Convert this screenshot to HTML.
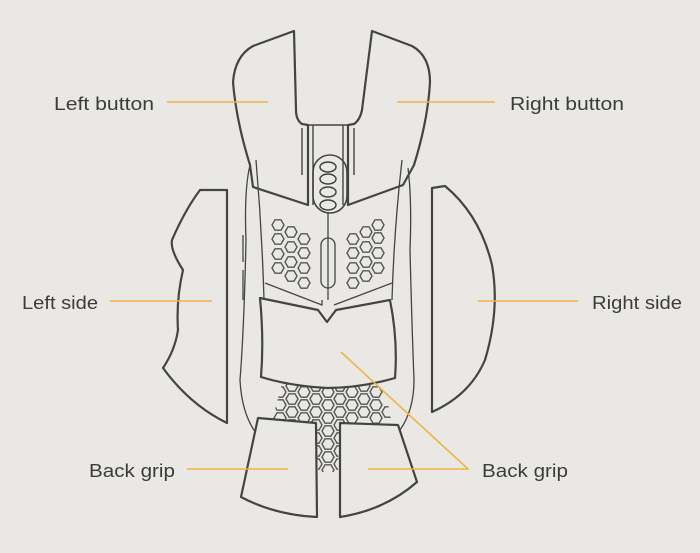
<!DOCTYPE html>
<html><head><style>
html,body{margin:0;padding:0;background:#e9e8e4;}
svg{display:block}
text{font-family:"Liberation Sans",sans-serif;font-size:18px;fill:#3c3c3c;}
</style></head><body>
<svg width="700" height="553" viewBox="0 0 700 553" xmlns="http://www.w3.org/2000/svg">
<defs>
<polygon id="h" points="6,0 3,5.2 -3,5.2 -6,0 -3,-5.2 3,-5.2" fill="none" stroke="#555" stroke-width="1.4"/>
<clipPath id="bc"><path d="M282,384 L384,384 L392,424 L340,424 L338,472 L318,472 L316,422 L272,420 Z"/></clipPath>
</defs>
<rect width="700" height="553" fill="#e9e8e4"/>
<g fill="none" stroke="#444" stroke-width="2.2" stroke-linejoin="round">
<path d="M250,165 Q244,190 246,240 Q244,330 240,380 Q242,420 262,440" stroke-width="1.3"/>
<path d="M408,168 Q412,200 410,250 Q412,330 414,380 Q414,410 400,430" stroke-width="1.3"/>
<path d="M256,160 Q262,230 264,300" stroke-width="1.3"/>
<path d="M402,160 Q394,230 392,300" stroke-width="1.3"/>
<path d="M265,283 L322,305 L322,300" stroke-width="1.3"/>
<path d="M392,283 L334,305" stroke-width="1.3"/>
<path d="M328,212 L328,300" stroke-width="1.3"/>
<rect x="321" y="238" width="14" height="50" rx="7" stroke-width="1.3"/>
<path d="M243,235 L243,262 M243,270 L243,300" stroke-width="1.3"/>
<path d="M294,31 L253,46 Q235,56 233,82 Q236,120 250,165 L253,187 L308,205 L308,125 L302,124 Q296,120 296,110 Z"/>
<path d="M372,31 L412,46 Q430,56 430,82 Q428,120 414,165 L403,185 L348,205 L348,125 L354,124 Q360,120 362,110 Z"/>
<path d="M308,125 L348,125 M313,125 L313,205 M343,125 L343,205" stroke-width="1.4"/>
<path d="M302,128 L302,175 M354,128 L354,175" stroke-width="1.4"/>
<rect x="313" y="155" width="34" height="58" rx="17" stroke-width="1.6"/>
<ellipse cx="328" cy="167" rx="8" ry="5" stroke-width="1.5"/>
<ellipse cx="328" cy="179" rx="8" ry="5" stroke-width="1.5"/>
<ellipse cx="328" cy="192" rx="8" ry="5" stroke-width="1.5"/>
<ellipse cx="328" cy="205" rx="8" ry="5" stroke-width="1.5"/>
</g>
<g>
<use href="#h" x="278" y="225"/><use href="#h" x="278" y="239"/><use href="#h" x="278" y="254"/><use href="#h" x="278" y="268"/>
<use href="#h" x="291" y="232"/><use href="#h" x="291" y="247"/><use href="#h" x="291" y="262"/><use href="#h" x="291" y="276"/>
<use href="#h" x="304" y="239"/><use href="#h" x="304" y="253"/><use href="#h" x="304" y="268"/><use href="#h" x="304" y="283"/>
<use href="#h" x="378" y="225"/><use href="#h" x="378" y="238"/><use href="#h" x="378" y="253"/><use href="#h" x="378" y="268"/>
<use href="#h" x="366" y="232"/><use href="#h" x="366" y="247"/><use href="#h" x="366" y="262"/><use href="#h" x="366" y="276"/>
<use href="#h" x="353" y="239"/><use href="#h" x="353" y="253"/><use href="#h" x="353" y="268"/><use href="#h" x="353" y="283"/>
</g>
<g clip-path="url(#bc)">
<use href="#h" x="280" y="392"/><use href="#h" x="280" y="405"/><use href="#h" x="280" y="418"/>
<use href="#h" x="292" y="386"/><use href="#h" x="292" y="399"/><use href="#h" x="292" y="412"/><use href="#h" x="292" y="425"/>
<use href="#h" x="304" y="392"/><use href="#h" x="304" y="405"/><use href="#h" x="304" y="418"/>
<use href="#h" x="316" y="386"/><use href="#h" x="316" y="399"/><use href="#h" x="316" y="412"/><use href="#h" x="316" y="425"/><use href="#h" x="316" y="438"/><use href="#h" x="316" y="451"/><use href="#h" x="316" y="464"/>
<use href="#h" x="328" y="392"/><use href="#h" x="328" y="405"/><use href="#h" x="328" y="418"/><use href="#h" x="328" y="431"/><use href="#h" x="328" y="444"/><use href="#h" x="328" y="457"/><use href="#h" x="328" y="470"/>
<use href="#h" x="340" y="386"/><use href="#h" x="340" y="399"/><use href="#h" x="340" y="412"/><use href="#h" x="340" y="425"/><use href="#h" x="340" y="438"/><use href="#h" x="340" y="451"/><use href="#h" x="340" y="464"/>
<use href="#h" x="352" y="392"/><use href="#h" x="352" y="405"/><use href="#h" x="352" y="418"/>
<use href="#h" x="364" y="386"/><use href="#h" x="364" y="399"/><use href="#h" x="364" y="412"/>
<use href="#h" x="376" y="392"/><use href="#h" x="376" y="405"/><use href="#h" x="376" y="418"/>
<use href="#h" x="388" y="412"/>
</g>
<g fill="#e9e8e4" stroke="#444" stroke-width="2.2" stroke-linejoin="round">
<path d="M260,298 L318,310 L327,322 L336,310 L390,300 Q398,340 395,378 Q360,388 327,388 Q290,386 261,377 Q264,340 260,298 Z"/>
<path d="M258,418 L316,423 L317,517 Q275,515 241,497 Q250,455 258,418 Z"/>
<path d="M340,423 L398,425 Q408,455 417,482 Q385,510 340,517 Z"/>
<path d="M227,190 L227,423 Q190,405 163,368 Q175,350 178,330 Q176,300 183,270 Q170,250 172,240 Q185,210 200,190 Z"/>
<path d="M432,188 L432,412 Q470,395 485,360 Q500,310 492,265 Q480,215 445,186 Z"/>
</g>
<g stroke="#f0b445" stroke-width="1.6" fill="none">
<line x1="167" y1="102" x2="268" y2="102"/>
<line x1="397" y1="102" x2="495" y2="102"/>
<line x1="110" y1="301" x2="212" y2="301"/>
<line x1="478" y1="301" x2="578" y2="301"/>
<line x1="187" y1="469" x2="288" y2="469"/>
<polyline points="341,352 468,469 368,469"/>
</g>
<text x="54" y="110" textLength="100" lengthAdjust="spacingAndGlyphs">Left button</text>
<text x="510" y="110" textLength="114" lengthAdjust="spacingAndGlyphs">Right button</text>
<text x="22" y="309" textLength="76" lengthAdjust="spacingAndGlyphs">Left side</text>
<text x="592" y="309" textLength="90" lengthAdjust="spacingAndGlyphs">Right side</text>
<text x="89" y="477" textLength="86" lengthAdjust="spacingAndGlyphs">Back grip</text>
<text x="482" y="477" textLength="86" lengthAdjust="spacingAndGlyphs">Back grip</text>
</svg>
</body></html>
